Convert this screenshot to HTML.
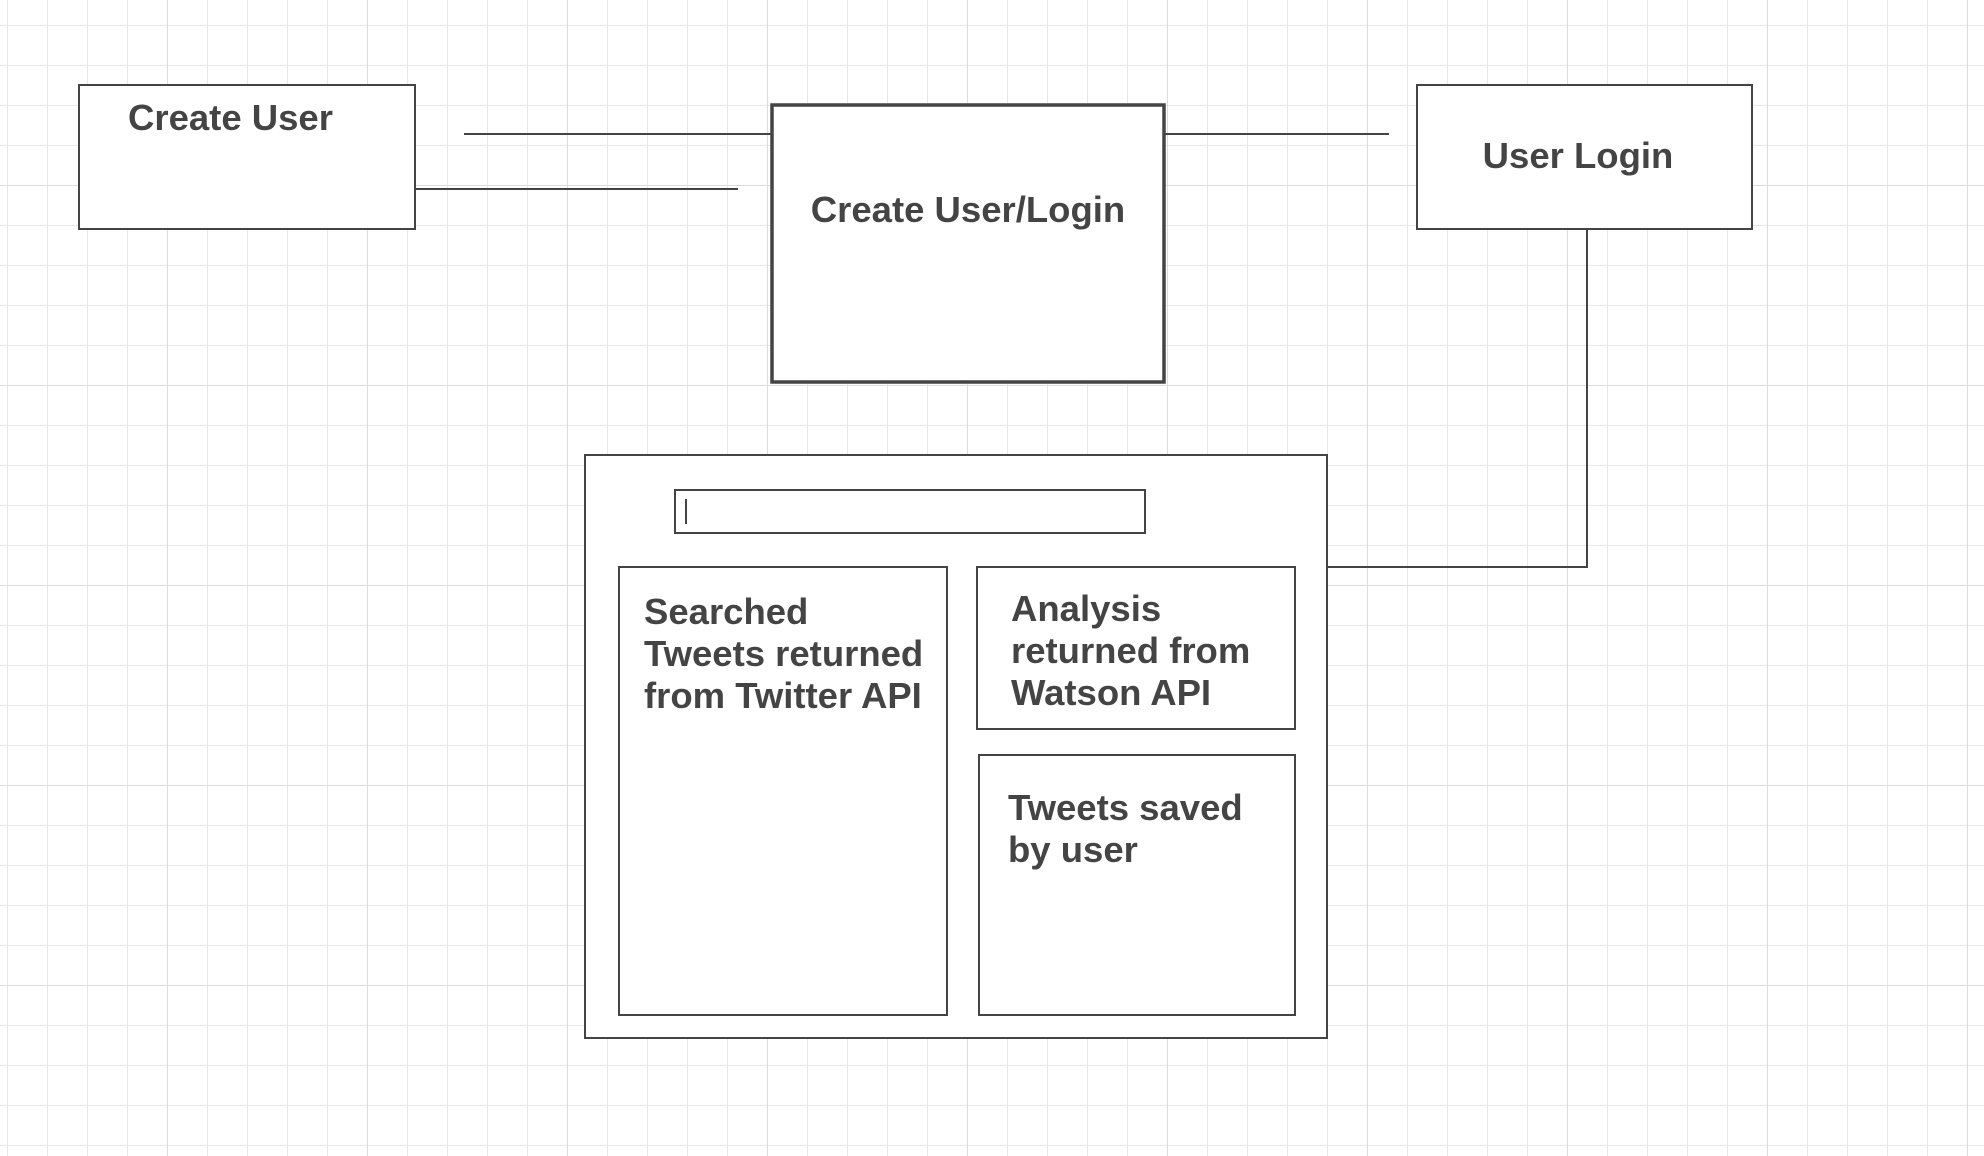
<!DOCTYPE html>
<html><head><meta charset="utf-8"><style>
html,body{margin:0;padding:0;width:1984px;height:1156px;overflow:hidden;background:#fff}
</style></head><body>
<svg width="1984" height="1156" xmlns="http://www.w3.org/2000/svg">
<defs>
<pattern id="g" x="7" y="25" width="40" height="40" patternUnits="userSpaceOnUse">
<path d="M0 0V40M0 0H40" stroke="#e8e8e8" stroke-width="2" fill="none"/>
</pattern>
<pattern id="G" x="167" y="185" width="200" height="200" patternUnits="userSpaceOnUse">
<path d="M0 0V200M0 0H200" stroke="#dcdcdc" stroke-width="2" fill="none"/>
</pattern>
</defs>
<rect width="1984" height="1156" fill="url(#g)"/>
<rect width="1984" height="1156" fill="url(#G)"/>
<g fill="#fff" stroke="#444" stroke-width="2">
<rect x="79" y="85" width="336" height="144"/>
<rect x="772" y="105" width="392" height="277" stroke-width="3.5"/>
<rect x="1417" y="85" width="335" height="144"/>
<rect x="585" y="455" width="742" height="583"/>
<rect x="675" y="490" width="470" height="43"/>
<rect x="619" y="567" width="328" height="448"/>
<rect x="977" y="567" width="318" height="162"/>
<rect x="979" y="755" width="316" height="260"/>
</g>
<g stroke="#444" stroke-width="2" fill="none">
<path d="M464 134H771M415 189H738M1164 134H1389M1587 229V567H1327"/>
<path d="M686 499V524"/>
</g>
<g font-family="Liberation Sans, sans-serif" font-weight="bold" font-size="36.5" fill="#444">
<text x="128" y="130">Create User</text>
<text x="968" y="222" text-anchor="middle">Create User/Login</text>
<text x="1578" y="168" text-anchor="middle">User Login</text>
<text x="644" y="624">Searched</text>
<text x="644" y="666">Tweets returned</text>
<text x="644" y="708">from Twitter API</text>
<text x="1011" y="621">Analysis</text>
<text x="1011" y="663">returned from</text>
<text x="1011" y="705">Watson API</text>
<text x="1008" y="820">Tweets saved</text>
<text x="1008" y="862">by user</text>
</g>
</svg>
</body></html>
